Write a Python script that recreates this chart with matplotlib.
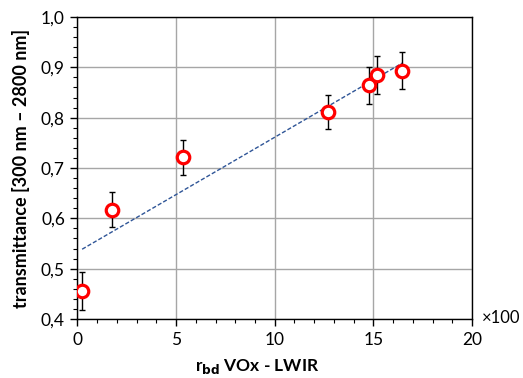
import numpy as np
import matplotlib
matplotlib.use("Agg")
from matplotlib import pyplot as plt
from matplotlib.ticker import MultipleLocator, FuncFormatter

# data
r_bd = [0.24, 1.73, 5.34, 12.7, 14.8, 15.17, 16.47]
trans = [0.456, 0.617, 0.721, 0.811, 0.864, 0.885, 0.893]
trans_err = [0.038, 0.035, 0.035, 0.034, 0.037, 0.037, 0.037]

xticks = [0, 5, 10, 15, 20]
yticks = [0.4, 0.5, 0.6, 0.7, 0.8, 0.9, 1.0]


def main():
    plt.rcParams['font.family'] = ['Lato', 'DejaVu Sans']

    fig = plt.figure(figsize=(5.23, 3.78), dpi=100)
    ax = fig.add_axes([0.148, 0.156, 0.7545, 0.799])

    # linear trend line over the data range
    x = np.array(r_bd)
    k, d = np.polyfit(x, np.array(trans), 1)
    xt = np.array([x.min(), x.max()])
    ax.plot(xt, k*xt + d, ls=(0, (3, 1.5)), color='#2f5597', lw=1.0, zorder=3)

    ax.errorbar(r_bd, trans, yerr=trans_err, fmt='none', ecolor='black',
                elinewidth=1.0, capsize=2.5, capthick=1.0, zorder=4)
    ax.plot(r_bd, trans, 'o', mfc='white', mec='#ff0000', mew=2.3, ms=9, zorder=5)

    ax.set_xlim(0, 20)
    ax.set_ylim(0.4, 1.0)
    ax.set_xticks(xticks)
    ax.set_yticks(yticks)
    ax.xaxis.set_minor_locator(MultipleLocator(1))
    ax.yaxis.set_minor_locator(MultipleLocator(0.02))
    ax.yaxis.set_major_formatter(FuncFormatter(lambda v, p: f"{v:.1f}".replace('.', ',')))
    ax.tick_params(which='major', direction='out', length=5, width=1, labelsize=12.5, pad=4)
    ax.tick_params(which='minor', direction='out', length=3, width=0.8)

    ax.grid(True, which='major', color='#a6a6a6', lw=1.0)
    ax.set_axisbelow(True)
    for s in ax.spines.values():
        s.set_color('black')
        s.set_linewidth(1.0)

    ax.set_xlabel(r"r$_{\mathbf{bd}}$ VOx - LWIR", fontsize=12.5, fontweight='bold')
    ax.xaxis.set_label_coords(0.455, -0.125)
    ax.set_ylabel("transmittance [300 nm – 2800 nm]", fontsize=13, fontweight='bold', labelpad=8)
    fig.text(0.922, 0.158, "×100", fontsize=12, ha='left', va='center')

    plt.savefig("out.png", dpi=100)
    plt.close()


if __name__ == "__main__":
    main()
